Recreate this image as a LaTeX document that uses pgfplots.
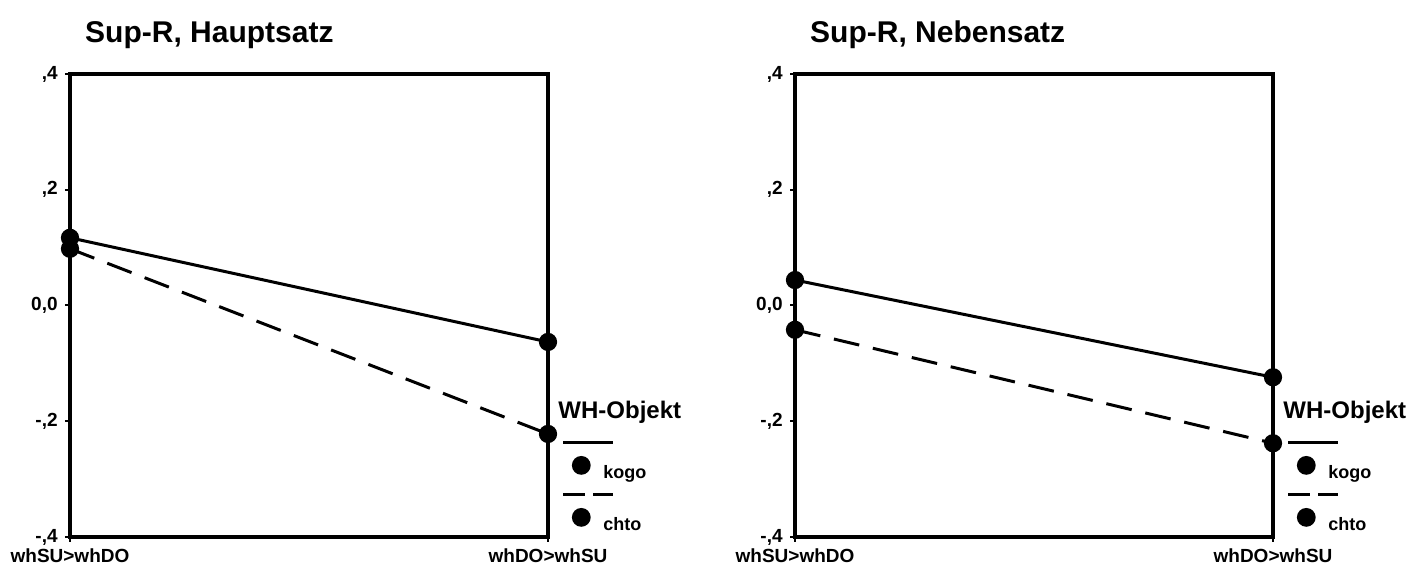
\documentclass[border=0pt]{standalone}
\usepackage{fontspec}
\setmainfont{Liberation Sans}
\usepackage{pgfplots}
\pgfplotsset{compat=1.18}
\pgfplotsset{
  panel/.style={
    at={(#1,14pt)}, anchor=south west,
    scale only axis, width=239pt, height=231.5pt,
    xmin=0, xmax=1, ymin=-0.4, ymax=0.4,
    clip=false,
    xtick={0,1}, xticklabels={whSU>whDO,whDO>whSU},
    ytick={-0.4,-0.2,0,0.2,0.4},
    yticklabels={{-,4},{-,2},{0,0},{,2},{,4}},
    xtick pos=bottom, ytick pos=left,
    axis line style={line width=2pt, line join=miter},
    tick align=outside, major tick length=2.5pt,
    tick style={line width=1pt, black},
    /pgf/number format/assume math mode=true,
    xticklabel style={font=\bfseries\fontsize{9.5}{11}\selectfont, inner sep=0pt, anchor=north, yshift=-3pt},
    yticklabel style={font=\bfseries\fontsize{9.5}{11}\selectfont, inner sep=0pt, anchor=east, xshift=-3.5pt},
    legend style={at={(1.050,0.148)}, anchor=north west, draw=none, fill=none,
      inner sep=0pt, column sep=6.5pt, row sep=19.5pt,
      font=\bfseries\fontsize{9}{10}\selectfont,
      nodes={inner sep=0pt, text height=5pt, text depth=1.5pt}},
    legend cell align=left,
  },
  kogo/.style={black, line width=1.5pt, mark=*, mark size=3.8pt, mark options={solid, fill=black},
    legend image code/.code={
      \draw[overlay, solid, line width=1.5pt] (-9pt,16.5pt) -- (16pt,16.5pt);
      \path[overlay, solid, draw=none, fill=black] (0pt,5pt) circle (4.7pt);
      \path[draw=none, fill=none] (-4.5pt,-2pt) rectangle (4.5pt,2pt);
    }},
  chto/.style={black, line width=1.5pt, dash pattern=on 13pt off 7pt, mark=*, mark size=3.8pt, mark options={solid, fill=black},
    legend image code/.code={
      \draw[overlay, line width=1.5pt, dash pattern=on 11pt off 4pt] (-9pt,16.5pt) -- (16pt,16.5pt);
      \path[overlay, solid, draw=none, fill=black] (0pt,5pt) circle (4.7pt);
      \path[draw=none, fill=none] (-4.5pt,-2pt) rectangle (4.5pt,2pt);
    }},
}
\begin{document}
\begin{tikzpicture}
\path[use as bounding box] (0,0) rectangle (704.5pt,282.5pt);
\begin{axis}[panel=35pt]
\addplot[kogo] coordinates {(0,0.117) (1,-0.063)};
\addlegendentry{kogo}
\addplot[chto] coordinates {(0,0.098) (1,-0.222)};
\addlegendentry{chto}
\node[anchor=base west, inner sep=0pt, font=\bfseries\fontsize{15}{18}\selectfont] at (axis description cs:0.031,1.069) {Sup-R, Hauptsatz};
\node[anchor=west, inner sep=0pt, font=\bfseries\fontsize{12}{14}\selectfont] at (axis description cs:1.021,0.270) {WH-Objekt};
\end{axis}
\begin{axis}[panel=397.5pt]
\addplot[kogo] coordinates {(0,0.044) (1,-0.124)};
\addlegendentry{kogo}
\addplot[chto] coordinates {(0,-0.042) (1,-0.238)};
\addlegendentry{chto}
\node[anchor=base west, inner sep=0pt, font=\bfseries\fontsize{15}{18}\selectfont] at (axis description cs:0.031,1.069) {Sup-R, Nebensatz};
\node[anchor=west, inner sep=0pt, font=\bfseries\fontsize{12}{14}\selectfont] at (axis description cs:1.021,0.270) {WH-Objekt};
\end{axis}
\end{tikzpicture}
\end{document}
